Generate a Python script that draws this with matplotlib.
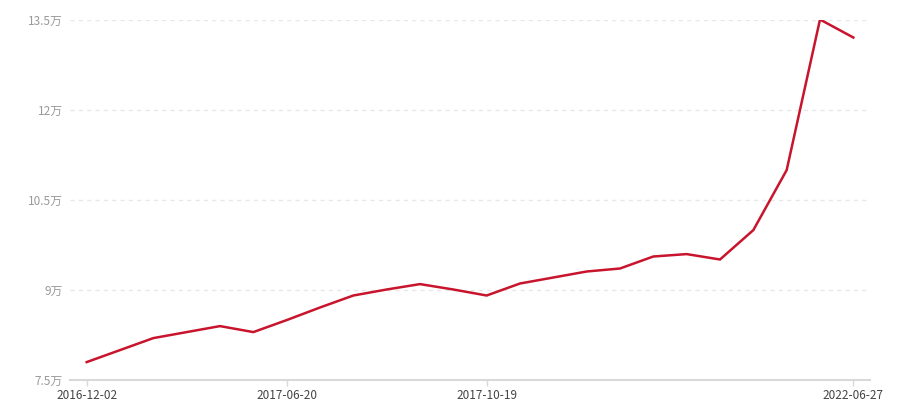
import matplotlib
matplotlib.use("Agg")
import matplotlib.pyplot as plt
from matplotlib.ticker import FixedLocator, FuncFormatter

plt.rcParams['font.family'] = ['Noto Sans CJK SC', 'DejaVu Sans']

# 24 categories; only some dates are known/labelled
dates = ["2016-12-02", "", "", "", "", "", "2017-06-20", "", "", "", "", "",
         "2017-10-19", "", "", "", "", "", "", "", "", "", "", "2022-06-27"]
values = [7.79, 7.99, 8.19, 8.29, 8.39, 8.29, 8.49, 8.70, 8.90, 9.00, 9.09, 9.00,
          8.90, 9.10, 9.20, 9.30, 9.35, 9.55, 9.59, 9.50, 9.99, 10.99, 13.50, 13.20]
label_idx = [0, 6, 12, 23]
yticks = [7.5, 9, 10.5, 12, 13.5]

fig = plt.figure(figsize=(9, 4), dpi=100)
ax = fig.add_axes([70/900, 1-379.5/400, 800/900, 360/400])

x = list(range(len(values)))
ax.plot(x, values, color="#c8142c", linewidth=1.8, solid_joinstyle="miter", zorder=3)

ax.set_xlim(-0.5, len(values)-0.5)
ax.set_ylim(7.5, 13.5)

ax.xaxis.set_major_locator(FixedLocator(label_idx))
ax.set_xticklabels([dates[i] for i in label_idx])
ax.yaxis.set_major_locator(FixedLocator(yticks))
ax.yaxis.set_major_formatter(FuncFormatter(lambda v, p: f"{v:g}万"))

for v in yticks[1:]:
    ax.axhline(v, color="#e8e8e8", linewidth=1, linestyle=(0, (3, 3)), zorder=1)

for s in ["top", "right", "left"]:
    ax.spines[s].set_visible(False)
ax.spines["bottom"].set_color("#d9d9d9")
ax.spines["bottom"].set_linewidth(1.5)

ax.tick_params(axis="x", length=4, width=1, color="#d9d9d9", labelsize=8.5,
               labelcolor="#444444", pad=2.5)
ax.tick_params(axis="y", length=0, labelsize=8.5, labelcolor="#999999", pad=5)

fig.savefig("out.png", dpi=100, facecolor="white")
